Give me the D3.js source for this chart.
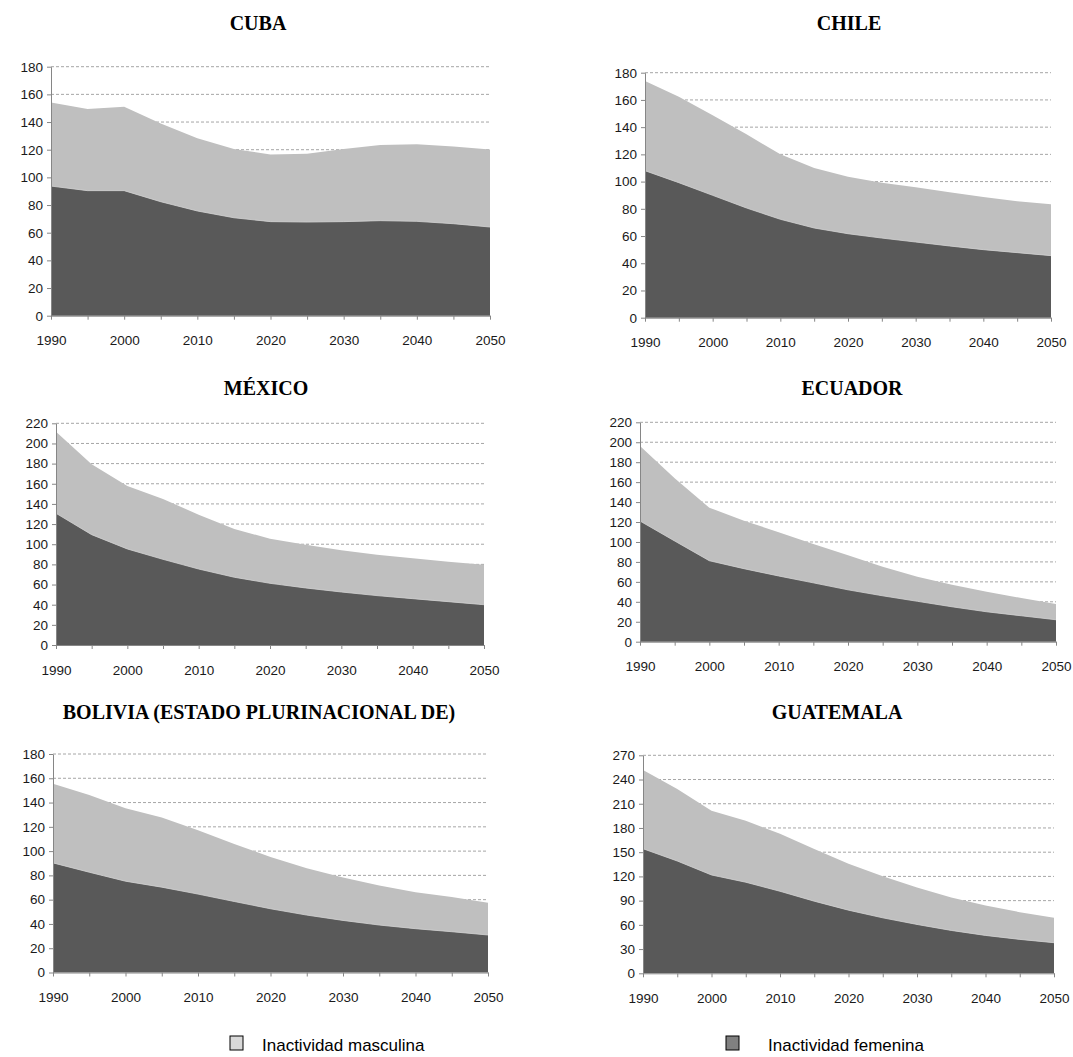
<!DOCTYPE html>
<html>
<head>
<meta charset="utf-8">
<script src="https://cdn.jsdelivr.net/npm/d3@7"></script>
<style>
  body { margin: 0; background: #ffffff; }
  svg { display: block; }
</style>
</head>
<body>
<svg id="chart" width="1073" height="1057"></svg>
<script>
// Years on the horizontal axis (quinquennial estimates and projections)
const years = [1990, 1995, 2000, 2005, 2010, 2015, 2020, 2025, 2030, 2035, 2040, 2045, 2050];
const yearLabels = [1990, 2000, 2010, 2020, 2030, 2040, 2050];

// Female and male inactivity per country
const cubaFem      = [93.7, 90.4, 90.4, 82.4, 75.7, 70.8, 68.0, 67.7, 68.0, 68.7, 68.2, 66.5, 64.1];
const cubaMasc     = [60.5, 59.0, 60.7, 56.6, 52.5, 49.7, 48.6, 49.4, 52.5, 54.7, 55.7, 55.9, 56.1];

const chileFem     = [108.0, 99.2, 89.9, 80.6, 72.3, 65.9, 61.7, 58.5, 55.6, 52.7, 50.0, 47.8, 45.6];
const chileMasc    = [65.9, 63.2, 58.8, 54.1, 47.7, 44.1, 41.9, 40.7, 40.2, 39.4, 38.7, 37.7, 37.7];

const mexicoFem    = [130.7, 109.5, 95.3, 85.0, 75.4, 67.2, 61.2, 56.6, 52.6, 49.0, 46.0, 43.0, 40.0];
const mexicoMasc   = [81.0, 69.8, 62.5, 59.9, 53.9, 47.9, 44.3, 43.0, 41.3, 40.6, 40.0, 39.7, 39.7];

const ecuadorFem   = [121.0, 101.0, 81.2, 73.2, 65.9, 59.0, 52.0, 46.0, 40.5, 35.0, 30.0, 26.0, 22.0];
const ecuadorMasc  = [75.3, 62.8, 53.2, 48.2, 43.8, 39.0, 34.6, 29.2, 24.7, 22.0, 20.0, 17.8, 15.8];

const boliviaFem   = [90.3, 82.6, 75.2, 70.3, 64.6, 58.5, 52.5, 47.3, 42.9, 39.1, 36.1, 33.6, 30.9];
const boliviaMasc  = [65.1, 63.7, 60.2, 57.4, 52.5, 47.4, 42.7, 38.6, 35.3, 32.6, 30.1, 28.5, 26.5];

const guatemalaFem  = [154.3, 139.1, 121.8, 112.8, 101.6, 89.3, 78.2, 68.7, 60.5, 53.1, 46.9, 42.0, 37.9];
const guatemalaMasc = [97.6, 89.3, 79.4, 76.1, 71.2, 64.6, 57.6, 51.5, 45.7, 40.7, 37.1, 33.7, 30.8];

// Country titles and vertical tick labels
const titles = ["CUBA", "CHILE", "MÉXICO", "ECUADOR", "BOLIVIA (ESTADO PLURINACIONAL DE)", "GUATEMALA"];
const ticks180 = [0, 20, 40, 60, 80, 100, 120, 140, 160, 180];
const ticks220 = [0, 20, 40, 60, 80, 100, 120, 140, 160, 180, 200, 220];
const ticks270 = [0, 30, 60, 90, 120, 150, 180, 210, 240, 270];

const seriesNames = ["Inactividad masculina", "Inactividad femenina"];

// Panel layout (plot box in pixels)
const panels = [
  { title: titles[0], fem: cubaFem,      masc: cubaMasc,      ticks: ticks180, left: 51,  right: 490,  top: 66.7,  bottom: 315.7, cx: 258, ty: 29.5 },
  { title: titles[1], fem: chileFem,     masc: chileMasc,     ticks: ticks180, left: 645, right: 1051, top: 72.7,  bottom: 317.7, cx: 849, ty: 29.5 },
  { title: titles[2], fem: mexicoFem,    masc: mexicoMasc,    ticks: ticks220, left: 56,  right: 484,  top: 423.3, bottom: 645,   cx: 266, ty: 395 },
  { title: titles[3], fem: ecuadorFem,   masc: ecuadorMasc,   ticks: ticks220, left: 640, right: 1056, top: 422.3, bottom: 641.7, cx: 852, ty: 395 },
  { title: titles[4], fem: boliviaFem,   masc: boliviaMasc,   ticks: ticks180, left: 53,  right: 488,  top: 754,   bottom: 972.5, cx: 259, ty: 719 },
  { title: titles[5], fem: guatemalaFem, masc: guatemalaMasc, ticks: ticks270, left: 643, right: 1054, top: 755.3, bottom: 973.3, cx: 837, ty: 719 }
];

const COLOR_FEM = "#595959";
const COLOR_MASC = "#bfbfbf";
const AXIS = "#868686";
const GRID = "#a6a6a6";
const SANS = "'Liberation Sans', Arial, sans-serif";
const SERIF = "'Liberation Serif', 'Times New Roman', serif";

const svg = d3.select("#chart");

panels.forEach(p => {
  const rows = years.map((yr, i) => ({ year: yr, fem: p.fem[i], masc: p.masc[i] }));
  const stacked = d3.stack().keys(["fem", "masc"])(rows);

  const x = d3.scaleLinear().domain([1990, 2050]).range([p.left, p.right]);
  const y = d3.scaleLinear().domain([0, d3.max(p.ticks)]).range([p.bottom, p.top]);

  const g = svg.append("g");

  // Dashed horizontal gridlines
  g.append("g")
    .selectAll("line")
    .data(p.ticks.filter(t => t > 0))
    .join("line")
    .attr("x1", p.left).attr("x2", p.right)
    .attr("y1", d => y(d)).attr("y2", d => y(d))
    .attr("stroke", GRID)
    .attr("stroke-width", 1)
    .attr("stroke-dasharray", "3,2");

  // Stacked areas: female at the base, male on top
  const area = d3.area()
    .x(d => x(d.data.year))
    .y0(d => y(d[0]))
    .y1(d => y(d[1]));

  g.append("path")
    .datum(stacked[1])
    .attr("d", area)
    .attr("fill", COLOR_MASC);

  g.append("path")
    .datum(stacked[0])
    .attr("d", area)
    .attr("fill", COLOR_FEM);

  // Thin light seam along the top of the female series
  g.append("path")
    .datum(stacked[0])
    .attr("d", d3.line().x(d => x(d.data.year)).y(d => y(d[1])))
    .attr("fill", "none")
    .attr("stroke", "#d0d0d0")
    .attr("stroke-width", 0.8);

  // Vertical axis
  const yAxis = g.append("g")
    .attr("transform", `translate(${p.left},0)`)
    .call(d3.axisLeft(y).tickValues(p.ticks).tickSizeInner(4).tickSizeOuter(0).tickPadding(4));
  yAxis.select(".domain").attr("stroke", AXIS);
  yAxis.selectAll(".tick line").attr("stroke", AXIS);
  yAxis.selectAll("text")
    .attr("font-family", SANS)
    .attr("font-size", "13.5px")
    .attr("fill", "#1a1a1a");

  // Horizontal axis: ticks every 5 years, labels every 10
  const xAxis = g.append("g")
    .attr("transform", `translate(0,${p.bottom})`)
    .call(d3.axisBottom(x)
      .tickValues(years)
      .tickFormat(d => yearLabels.includes(d) ? String(d) : "")
      .tickSizeInner(4).tickSizeOuter(0).tickPadding(16));
  xAxis.select(".domain").attr("stroke", AXIS);
  xAxis.selectAll(".tick line").attr("stroke", AXIS);
  xAxis.selectAll("text")
    .attr("font-family", SANS)
    .attr("font-size", "13.5px")
    .attr("fill", "#1a1a1a");

  // Panel title
  svg.append("text")
    .attr("x", p.cx)
    .attr("y", p.ty)
    .attr("text-anchor", "middle")
    .attr("font-family", SERIF)
    .attr("font-weight", "bold")
    .attr("font-size", "20px")
    .attr("fill", "#000")
    .text(p.title);
});

// Legend
const legendItems = [
  { name: seriesNames[0], color: "#d9d9d9", bx: 230, tx: 262 },
  { name: seriesNames[1], color: "#808080", bx: 726, tx: 768 }
];
const legend = svg.append("g");
legendItems.forEach(item => {
  legend.append("rect")
    .attr("x", item.bx).attr("y", 1036)
    .attr("width", 13).attr("height", 14)
    .attr("fill", item.color)
    .attr("stroke", "#000")
    .attr("stroke-width", 1);
  legend.append("text")
    .attr("x", item.tx).attr("y", 1051)
    .attr("font-family", SANS)
    .attr("font-size", "17px")
    .attr("fill", "#000")
    .text(item.name);
});
</script>
</body>
</html>
